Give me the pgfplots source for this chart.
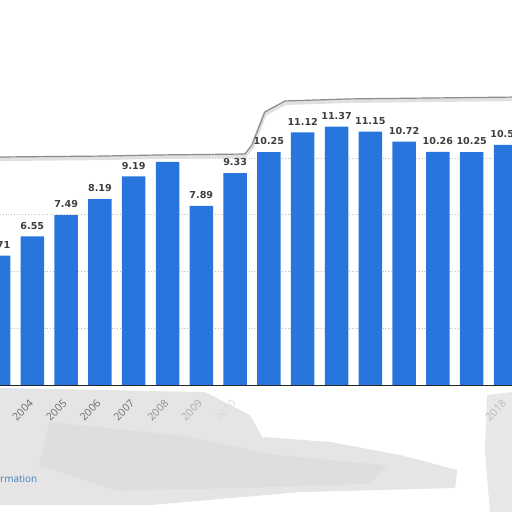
\documentclass[border=0pt]{standalone}
\usepackage{fontspec}
\usepackage{pgfplots}
\pgfplotsset{compat=1.18}
\newfontfamily\lblfont{DejaVu Sans}
\newfontfamily\tickfont{Open Sans}
\definecolor{barblue}{RGB}{40,118,221}
\definecolor{lblgray}{RGB}{62,62,62}
\definecolor{linkblue}{RGB}{70,125,190}

\begin{document}
\begin{tikzpicture}
  \begin{axis}[
      scale only axis,
      width=512bp, height=512bp,
      xmin=2003.044, xmax=2018.192,
      ymin=-5.544, ymax=16.932,
      axis x line*=middle,
      axis y line=none,
      axis on top,
      x axis line style={black!85, line width=1.3bp},
      ytick=\empty,
      xtick={2003,...,2018},
      major tick length=0pt,
      xticklabels={{},
        {\color{black!58}2004},{\color{black!58}2005},{\color{black!58}2006},
        {\color{black!55}2007},{\color{black!45}2008},{\color{black!33}2009},
        {\color{black!15}2010},{},{},{},{},{},{},{},{\color{black!28}2018}},
      xticklabel style={xshift=-1bp, yshift=-16bp, rotate=45, anchor=east,
        inner sep=0pt, font=\tickfont\fontsize{10.5bp}{11bp}\selectfont},
      clip=false,
    ]
    % grey smudge left by the distorted screenshot
    \addplot[fill=black!10, draw=none] coordinates {
      (2003.044,-0.10) (2009.109,-0.28) (2010.44,-1.29) (2010.80,-2.25)
      (2012.81,-2.47) (2014.88,-3.04) (2016.57,-3.70) (2016.51,-4.49)
      (2011.92,-4.67) (2007.48,-5.24) (2003.044,-5.24)} -- cycle;
    \addplot[fill=black!13, draw=none] coordinates {
      (2004.5,-1.6) (2008.5,-2.2) (2011.0,-3.0) (2014.5,-3.5)
      (2014.0,-4.3) (2010.0,-4.5) (2006.5,-4.6) (2004.2,-3.5)} -- cycle;
    \addplot[fill=black!9, draw=none] coordinates {
      (2017.45,-0.41) (2018.192,-0.28) (2018.192,-5.544) (2017.54,-5.544)
      (2017.39,-2.82)} -- cycle;
    % grid lines
    \addplot[black!25, dotted, line width=0.8bp] coordinates {(2003.044,2.5) (2018.192,2.5)};
    \addplot[black!25, dotted, line width=0.8bp] coordinates {(2003.044,5) (2018.192,5)};
    \addplot[black!25, dotted, line width=0.8bp] coordinates {(2003.044,7.5) (2018.192,7.5)};
    \addplot[black!25, dotted, line width=0.8bp] coordinates {(2003.044,10) (2018.192,10)};
    % panel border
    \addplot[black!12, line width=4bp] coordinates {
      (2003.044,9.95) (2006.003,9.99) (2007.78,10.04) (2010.29,10.08)
      (2010.50,10.48) (2010.88,11.93) (2011.48,12.41) (2013.40,12.50) (2018.192,12.58)};
    \addplot[black!45, line width=1.2bp] coordinates {
      (2003.044,10.04) (2006.003,10.08) (2007.78,10.13) (2010.29,10.17)
      (2010.50,10.57) (2010.88,12.02) (2011.48,12.50) (2013.40,12.59) (2018.192,12.67)};
    % bars
    \addplot[ybar, bar width=0.695, fill=barblue, draw=none,
      point meta=explicit symbolic,
      nodes near coords,
      every node near coord/.append style={lblgray, inner sep=0pt, yshift=7bp,
        font=\lblfont\bfseries\fontsize{9.6bp}{10bp}\selectfont}]
      coordinates {
        (2003,5.71) [5.71]
        (2004,6.55) [6.55]
        (2005,7.49) [7.49]
        (2006,8.19) [8.19]
        (2007,9.19) [9.19]
        (2008,9.83) []
        (2009,7.89) [7.89]
        (2010,9.33) [9.33]
        (2011,10.25) [10.25]
        (2012,11.12) [11.12]
        (2013,11.37) [11.37]
        (2014,11.15) [11.15]
        (2015,10.72) [10.72]
        (2016,10.26) [10.26]
        (2017,10.25) [10.25]
        (2018,10.57) [10.57]
      };
    \node[anchor=west, inner sep=0pt, text=linkblue,
      font=\tickfont\fontsize{10bp}{11bp}\selectfont]
      at (axis cs:2003.044,-4.10) {rmation};
  \end{axis}
  \pgfresetboundingbox
  \useasboundingbox (0,0) rectangle (512bp,512bp);
\end{tikzpicture}
\end{document}
